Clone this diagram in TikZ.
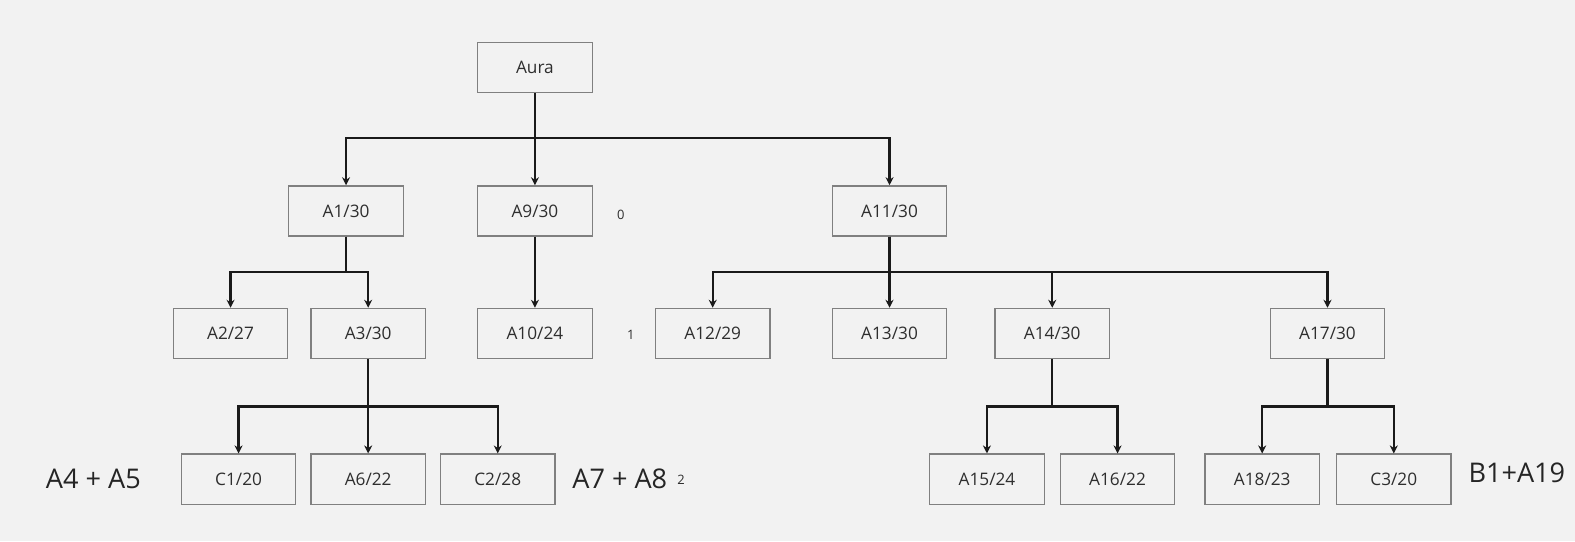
\documentclass[tikz,border=0pt]{standalone}
\usepackage{fontspec}
\setmainfont{Open Sans}
\usetikzlibrary{arrows.meta}
\definecolor{bgc}{HTML}{F2F2F2}
\definecolor{boxline}{HTML}{808080}
\definecolor{txt}{HTML}{2E2E2E}
\definecolor{conn}{HTML}{1A1A1A}
\begin{document}
\begin{tikzpicture}[x=1.0045bp,y=-1.0045bp,
  box/.style={draw=boxline,line width=1.3bp,minimum width=114.5bp,minimum height=50.2bp,inner sep=0pt,text=txt,font=\fontsize{17.3}{19}\selectfont},
  link/.style={draw=conn,line width=2.2bp,-{Stealth[length=8bp,width=8bp]}},
  big/.style={text=txt!80!black,font=\fontsize{27.2}{30}\selectfont,inner sep=0pt},
  small/.style={text=txt,font=\fontsize{13}{15}\selectfont,inner sep=0pt}]
\useasboundingbox (0,0) rectangle (1567.9,538.6);
\path[fill=bgc] (0,0) rectangle (1567.9,538.6);
\node[box] (aura) at (532.5,67) {Aura};
\node[box] (a1) at (344.5,210) {A1/30};
\node[box] (a9) at (532.5,210) {A9/30};
\node[box] (a11) at (885.5,210) {A11/30};
\node[box] (a2) at (229.5,332) {A2/27};
\node[box] (a3) at (366.5,332) {A3/30};
\node[box] (a10) at (532.5,332) {A10/24};
\node[box] (a12) at (709.5,332) {A12/29};
\node[box] (a13) at (885.5,332) {A13/30};
\node[box] (a14) at (1047.5,332) {A14/30};
\node[box] (a17) at (1321.5,332) {A17/30};
\node[box] (c1) at (237.5,477) {C1/20};
\node[box] (a6) at (366.5,477) {A6/22};
\node[box] (c2) at (495.5,477) {C2/28};
\node[box] (a15) at (982.5,477) {A15/24};
\node[box] (a16) at (1112.5,477) {A16/22};
\node[box] (a18) at (1256.5,477) {A18/23};
\node[box] (c3) at (1387.5,477) {C3/20};
\node[big] (l45) at (93,477) {A4 + A5};
\node[big] (l78) at (617,477) {A7 + A8};
\node[big] (lb1) at (1510,471) {B1+A19};
\node[small] (n0) at (618,214) {0};
\node[small] (n1) at (628,333) {1};
\node[small] (n2) at (678,478) {2};
% Aura
\draw[link] (aura.south) -- ++(0,45) -| (a1.north);
\draw[link] (aura.south) -- (a9.north);
\draw[link] (aura.south) -- ++(0,45) -| (a11.north);
% A1
\draw[link] (a1.south) -- ++(0,35) -| (a2.north);
\draw[link] (a1.south) -- ++(0,35) -| (a3.north);
% A9
\draw[link] (a9.south) -- (a10.north);
% A11
\draw[link] (a11.south) -- ++(0,35) -| (a12.north);
\draw[link] (a11.south) -- (a13.north);
\draw[link] (a11.south) -- ++(0,35) -| (a14.north);
\draw[link] (a11.south) -- ++(0,35) -| (a17.north);
% A3
\draw[link] (a3.south) -- ++(0,47) -| (c1.north);
\draw[link] (a3.south) -- (a6.north);
\draw[link] (a3.south) -- ++(0,47) -| (c2.north);
% A14
\draw[link] (a14.south) -- ++(0,47) -| (a15.north);
\draw[link] (a14.south) -- ++(0,47) -| (a16.north);
% A17
\draw[link] (a17.south) -- ++(0,47) -| (a18.north);
\draw[link] (a17.south) -- ++(0,47) -| (c3.north);
\end{tikzpicture}
\end{document}
